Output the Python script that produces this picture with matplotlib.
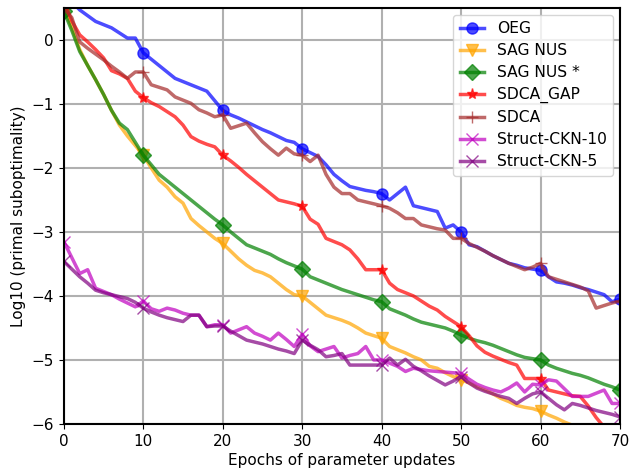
import matplotlib
matplotlib.use("Agg")
import matplotlib.pyplot as plt
import numpy as np

epochs = np.arange(71)

oeg = [0.75, 0.6, 0.47, 0.38, 0.29, 0.24, 0.19, 0.11, 0.03, 0.03,
       -0.2, -0.3, -0.4, -0.5, -0.6, -0.65, -0.7, -0.75, -0.8, -0.95,
       -1.1, -1.17, -1.22, -1.28, -1.34, -1.4, -1.45, -1.51, -1.57, -1.6,
       -1.7, -1.76, -1.82, -1.95, -2.1, -2.2, -2.29, -2.32, -2.35, -2.37,
       -2.4, -2.5, -2.4, -2.3, -2.59, -2.62, -2.65, -2.68, -2.94, -2.89,
       -3.0, -3.2, -3.23, -3.3, -3.37, -3.43, -3.49, -3.52, -3.56, -3.58,
       -3.6, -3.7, -3.78, -3.8, -3.83, -3.87, -3.9, -3.94, -3.98, -4.09,
       -4.05]

sag_nus = [0.5, 0.2, -0.15, -0.4, -0.62, -0.85, -1.1, -1.33, -1.5, -1.65,
           -1.8, -2.0, -2.19, -2.3, -2.45, -2.55, -2.79, -2.9, -3.0, -3.1,
           -3.18, -3.3, -3.42, -3.52, -3.6, -3.64, -3.7, -3.8, -3.9, -3.98,
           -4.0, -4.1, -4.2, -4.3, -4.34, -4.38, -4.43, -4.5, -4.58, -4.62,
           -4.66, -4.79, -4.84, -4.89, -4.95, -5.0, -5.1, -5.13, -5.2, -5.26,
           -5.31, -5.36, -5.42, -5.47, -5.53, -5.6, -5.65, -5.71, -5.74, -5.76,
           -5.8, -5.86, -5.91, -5.97, -6.02, -6.07, -6.12, -6.17, -6.22, -6.27,
           -6.32]

sag_nus_star = [0.45, 0.15, -0.18, -0.4, -0.62, -0.85, -1.1, -1.3, -1.4, -1.6,
                -1.8, -1.95, -2.1, -2.2, -2.3, -2.4, -2.5, -2.6, -2.7, -2.8,
                -2.89, -3.0, -3.1, -3.2, -3.25, -3.3, -3.35, -3.42, -3.48, -3.53,
                -3.58, -3.7, -3.75, -3.8, -3.85, -3.9, -3.94, -3.98, -4.02, -4.06,
                -4.09, -4.2, -4.25, -4.3, -4.36, -4.41, -4.44, -4.47, -4.5, -4.55,
                -4.61, -4.66, -4.7, -4.73, -4.77, -4.82, -4.87, -4.92, -4.96, -4.98,
                -5.0, -5.08, -5.13, -5.17, -5.21, -5.24, -5.28, -5.33, -5.38, -5.42,
                -5.47]

sdca_gap = [0.6, 0.3, 0.08, -0.03, -0.15, -0.28, -0.48, -0.53, -0.6, -0.8,
            -0.9, -0.98, -1.04, -1.12, -1.2, -1.33, -1.51, -1.58, -1.63, -1.67,
            -1.8, -1.89, -1.99, -2.1, -2.2, -2.3, -2.4, -2.5, -2.53, -2.56,
            -2.6, -2.8, -2.88, -3.1, -3.15, -3.2, -3.28, -3.42, -3.59, -3.59,
            -3.59, -3.8, -3.9, -3.95, -4.0, -4.08, -4.16, -4.22, -4.32, -4.4,
            -4.48, -4.62, -4.78, -4.88, -4.94, -4.99, -5.04, -5.08, -5.29, -5.29,
            -5.29, -5.47, -5.5, -5.53, -5.56, -5.57, -5.72, -5.9, -6.05, -6.2,
            -6.4]

sdca = [0.5, 0.35, -0.03, -0.13, -0.22, -0.31, -0.41, -0.5, -0.6, -0.5,
        -0.5, -0.7, -0.74, -0.78, -0.89, -0.94, -0.99, -1.09, -1.14, -1.2,
        -1.17, -1.38, -1.34, -1.3, -1.45, -1.59, -1.7, -1.8, -1.69, -1.78,
        -1.8, -1.9, -1.8, -2.1, -2.3, -2.4, -2.4, -2.5, -2.53, -2.56,
        -2.59, -2.63, -2.7, -2.79, -2.79, -2.89, -2.92, -2.95, -2.97, -3.1,
        -3.1, -3.18, -3.24, -3.3, -3.37, -3.43, -3.49, -3.54, -3.59, -3.55,
        -3.49, -3.7, -3.74, -3.78, -3.82, -3.86, -3.92, -4.19, -4.15, -4.11,
        -4.08]

ckn10 = [-3.15, -3.4, -3.65, -3.59, -3.88, -3.93, -3.98, -4.05, -4.11, -4.17,
         -4.08, -4.2, -4.24, -4.19, -4.22, -4.27, -4.3, -4.3, -4.48, -4.45,
         -4.45, -4.58, -4.53, -4.48, -4.58, -4.63, -4.69, -4.58, -4.68, -4.79,
         -4.6, -4.78, -4.87, -4.83, -4.79, -4.97, -4.93, -4.9, -4.79, -5.0,
         -5.0, -5.05, -5.1, -5.18, -5.13, -5.15, -5.17, -5.18, -5.19, -5.2,
         -5.21, -5.3, -5.38, -5.43, -5.47, -5.5, -5.44, -5.36, -5.5, -5.38,
         -5.39, -5.31, -5.33, -5.45, -5.57, -5.57, -5.57, -5.52, -5.47, -5.68,
         -5.68]

ckn5 = [-3.46, -3.58, -3.7, -3.8, -3.91, -3.95, -3.98, -4.01, -4.04, -4.1,
        -4.19, -4.25, -4.3, -4.34, -4.37, -4.4, -4.3, -4.3, -4.48, -4.47,
        -4.47, -4.55, -4.62, -4.69, -4.72, -4.75, -4.79, -4.83, -4.86, -4.9,
        -4.69, -4.77, -4.84, -4.95, -4.93, -4.9, -5.08, -5.08, -5.08, -5.08,
        -5.08, -4.97, -5.08, -4.99, -5.1, -5.17, -5.25, -5.32, -5.39, -5.33,
        -5.26, -5.36, -5.44, -5.49, -5.53, -5.57, -5.6, -5.68, -5.6, -5.53,
        -5.5, -5.6, -5.7, -5.78, -5.68, -5.71, -5.75, -5.79, -5.82, -5.85,
        -5.89]

series = [
    ("OEG", oeg, "blue", "o"),
    ("SAG NUS", sag_nus, "orange", "v"),
    ("SAG NUS *", sag_nus_star, "green", "D"),
    ("SDCA_GAP", sdca_gap, "red", "*"),
    ("SDCA", sdca, "brown", "+"),
    ("Struct-CKN-10", ckn10, "m", "x"),
    ("Struct-CKN-5", ckn5, "purple", "x"),
]

fig, ax = plt.subplots(figsize=(6.32, 4.7), dpi=100)
fig.subplots_adjust(left=0.101, right=0.981, top=0.983, bottom=0.098)
for label, values, color, marker in series:
    ax.plot(epochs, values, color=color, marker=marker, markevery=10,
            markersize=8, linewidth=2.5, alpha=0.7, label=label)

ax.set_xlim(0, 70)
ax.set_ylim(-6, 0.5)
ax.set_xlabel("Epochs of parameter updates", fontsize=11, labelpad=3)
ax.set_ylabel("Log10 (primal suboptimality)", fontsize=11, labelpad=4)
ax.grid(True, color="#b0b0b0", linewidth=1.5)
ax.legend(loc="upper right", fontsize=11.2, labelspacing=0.45,
          handlelength=1.6, borderaxespad=0.45)
ax.tick_params(labelsize=11)
for spine in ax.spines.values():
    spine.set_linewidth(1.5)
fig.savefig("out.png")
